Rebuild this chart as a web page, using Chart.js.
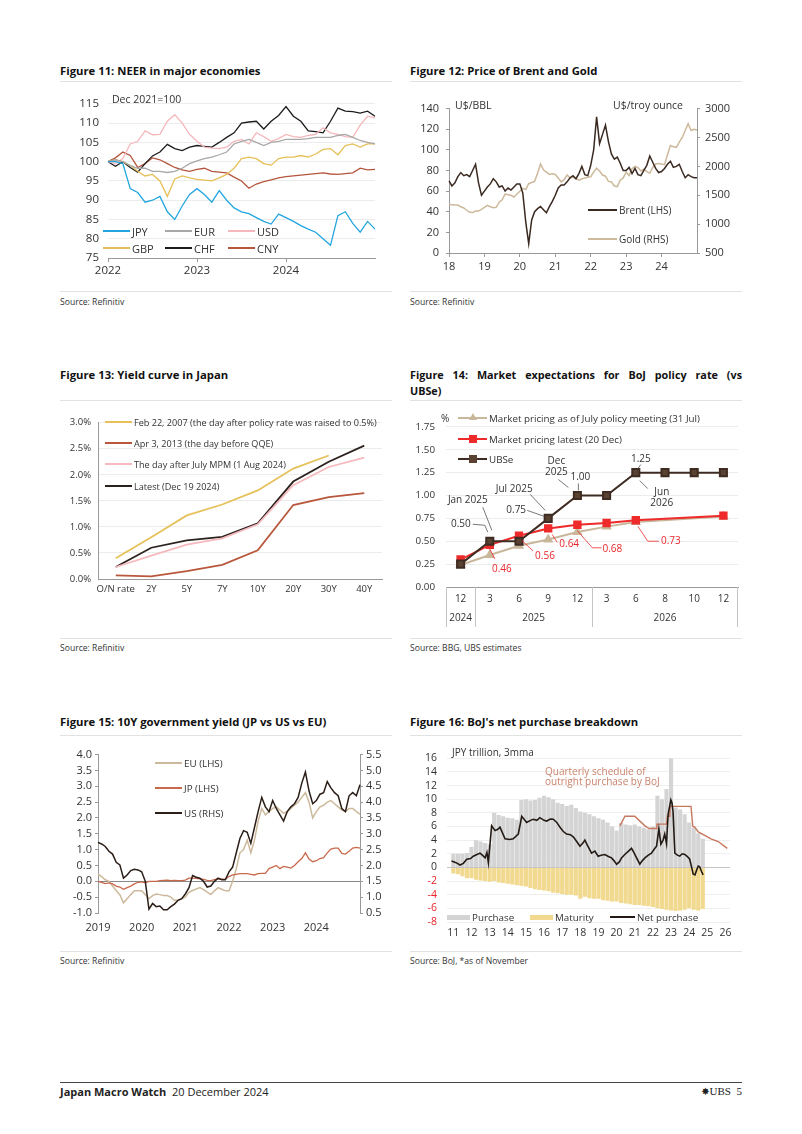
<!DOCTYPE html>
<html>
<head>
<meta charset="utf-8">
<title>Japan Macro Watch - page 5</title>
<script src="https://cdn.jsdelivr.net/npm/chart.js@4.4.1/dist/chart.umd.min.js"></script>
<style>
  body { margin: 0; background: #fff; }
  #page { position: relative; width: 802px; height: 1134px; overflow: hidden; font-family: "Open Sans", Lato, sans-serif; color: #222; }
  #page div { position: absolute; white-space: nowrap; }
  canvas { position: absolute; }
  .title { font-weight: bold; font-size: 11.3px; color: #111; line-height: 14px; }
  .rule { height: 0; border-top: 1px solid #e2e2e2; }
  .src { font-size: 8.6px; color: #333; line-height: 10px; }
  .note { font-size: 10px; line-height: 12px; color: #333; }
</style>
</head>
<body>
<div id="page">
  <div class="title" style="left:60px;top:64px">Figure 11: NEER in major economies</div>
  <div class="title" style="left:410px;top:64px">Figure 12: Price of Brent and Gold</div>
  <div class="rule" style="left:60px;top:81px;width:332px"></div>
  <div class="rule" style="left:410px;top:81px;width:332px"></div>
  <div class="rule" style="left:60px;top:291px;width:332px"></div>
  <div class="rule" style="left:410px;top:291px;width:332px"></div>
  <div class="src" style="left:60px;top:297px">Source: Refinitiv</div>
  <div class="src" style="left:410px;top:297px">Source: Refinitiv</div>

  <div class="title" style="left:60px;top:368px">Figure 13: Yield curve in Japan</div>
  <div class="title" style="left:410px;top:368px;width:332px;font-size:10.8px;text-align:justify;text-align-last:justify">Figure 14: Market expectations for BoJ policy rate (vs</div>
  <div class="title" style="left:410px;top:384px;font-size:10.8px">UBSe)</div>
  <div class="rule" style="left:60px;top:400px;width:332px"></div>
  <div class="rule" style="left:410px;top:400px;width:332px"></div>
  <div class="rule" style="left:60px;top:638px;width:332px"></div>
  <div class="rule" style="left:410px;top:638px;width:332px"></div>
  <div class="src" style="left:60px;top:643px">Source: Refinitiv</div>
  <div class="src" style="left:410px;top:643px">Source: BBG, UBS estimates</div>

  <div class="title" style="left:60px;top:715px">Figure 15: 10Y government yield (JP vs US vs EU)</div>
  <div class="title" style="left:410px;top:715px">Figure 16: BoJ's net purchase breakdown</div>
  <div class="rule" style="left:60px;top:735px;width:332px"></div>
  <div class="rule" style="left:410px;top:735px;width:332px"></div>
  <div class="rule" style="left:60px;top:951px;width:332px"></div>
  <div class="rule" style="left:410px;top:951px;width:332px"></div>
  <div class="src" style="left:60px;top:956px">Source: Refinitiv</div>
  <div class="src" style="left:410px;top:956px">Source: BoJ, *as of November</div>

  <canvas id="c11" width="330" height="190" style="left:60px;top:88px"></canvas>
  <canvas id="c12" width="340" height="175" style="left:405px;top:95px"></canvas>
  <canvas id="c13" width="340" height="190" style="left:55px;top:410px"></canvas>
  <canvas id="c14" width="340" height="222" style="left:405px;top:410px"></canvas>
  <canvas id="c15" width="340" height="195" style="left:55px;top:745px"></canvas>
  <canvas id="c16" width="340" height="206" style="left:405px;top:742px"></canvas>

  <div class="note" style="left:112px;top:93px;font-size:10.5px">Dec 2021=100</div>
  <div class="note" style="left:455px;top:99px;font-size:10.5px">U$/BBL</div>
  <div class="note" style="right:119px;top:99px;font-size:10.5px">U$/troy ounce</div>
  <div class="note" style="left:441px;top:412px">%</div>
  <div class="note" style="left:452px;top:746px">JPY trillion, 3mma</div>
  <div class="note" style="left:545px;top:766px;color:#c9836b;line-height:10px">Quarterly schedule of<br>outright purchase by BoJ</div>

  <div style="left:60px;top:1082px;width:682px;height:0;border-top:1px solid #444"></div>
  <div style="left:60px;top:1085px;font-size:11px;line-height:13px"><b>Japan Macro Watch</b>&nbsp;&nbsp;20 December 2024</div>
  <div style="right:60px;top:1085px;font-size:11px;line-height:13px;font-family:'Liberation Serif',serif"><span style="font-family:'DejaVu Sans';font-size:10px">&#10040;</span>UBS&nbsp;&nbsp;5</div>
</div>

<script>
// ---------- data ----------
function monthLabels(startYear, count) {
  var out = [];
  for (var k = 0; k < count; k++) {
    var y = startYear + Math.floor(k / 12), m = k % 12 + 1;
    out.push(y + '-' + (m < 10 ? '0' + m : m));
  }
  return out;
}

// Figure 11: NEER, monthly Jan 2022 .. Dec 2024 + latest
var neerMonths = monthLabels(2022, 36).concat(['latest']);
var neerNames = ['JPY', 'EUR', 'USD', 'GBP', 'CHF', 'CNY'];
var neerJPY = [100, 100, 99.5, 93, 92, 89.5, 90, 91, 87, 85, 88.5, 91.5,
  93, 91.5, 89.5, 92.5, 90, 88, 87, 86.5, 85.5, 84.5, 83.8, 86.4,
  85.5, 84.5, 83.4, 82.5, 81.7, 80, 78.3, 86, 87, 84, 81.7, 84.5, 82.5];
var neerEUR = [100, 100.5, 100, 99, 98.3, 98.3, 97.5, 97.5, 97.2, 97.5, 98.3, 99.5,
  100.2, 100.8, 101.2, 101.8, 102.5, 104.6, 105.3, 105.8, 105, 104.2, 105, 105.3,
  105.8, 105.8, 105.8, 106, 106.3, 106.3, 106.3, 106.8, 107.1, 106.3, 105.5, 105, 104.6];
var neerUSD = [100, 99.5, 100.8, 104.6, 105.3, 108, 107, 107.1, 110.5, 112.2, 110, 107.1,
  105.3, 103.8, 103.5, 103.4, 103.8, 105.3, 105.8, 104.6, 107.5, 106.5, 105.3, 106,
  107.1, 106.5, 106.3, 106.8, 107.1, 108.8, 107.5, 107.1, 106.5, 106.3, 109.5, 111.8, 111.4];
var neerGBP = [100, 100.5, 100, 99, 97.5, 96.3, 96.7, 95, 91, 95.5, 96.3, 95.8,
  95.4, 95.2, 95, 95.8, 96.7, 98.3, 100.8, 101.2, 100.8, 99.5, 99.1, 100.8,
  101.2, 101.2, 101.6, 101.2, 102, 103.2, 103.4, 101.8, 104.2, 104.6, 103.8, 104.6, 104.6];
var neerCHF = [100, 98.8, 100, 98.5, 97.3, 99.5, 101.5, 102.5, 104.5, 103.4, 102.9, 103.8,
  104.2, 104, 103.8, 105, 106.3, 107.5, 110, 110.3, 110.5, 108.5, 110.5, 112,
  114.3, 111.8, 110.5, 108, 107.8, 107.5, 110.5, 113.9, 113.1, 113, 112.6, 113.1, 111.8];
var neerCNY = [100, 101, 102.5, 101.6, 98.5, 99.5, 101, 100.5, 99.5, 98.5, 97.9, 97.5,
  98, 98.3, 97.5, 97.3, 97.1, 96, 95, 93.1, 94.2, 94.8, 95.3, 95.8,
  96.1, 96.3, 96.5, 96.7, 96.9, 97.1, 96.8, 96.7, 96.9, 97.1, 98.3, 97.9, 98];
var neerTicks = [75, 80, 85, 90, 95, 100, 105, 110, 115];

// Figure 12: Brent (LHS) and Gold (RHS), monthly Jan 2018 .. Dec 2024 + latest
var oilMonths = monthLabels(2018, 84).concat(['latest']);
var brent = [70, 65, 68, 74, 78, 75, 76, 74, 80, 86, 68, 56,
  60, 64, 67, 72, 69, 64, 65, 60, 63, 61, 64, 67,
  67, 58, 30, 9, 32, 40, 43, 45, 42, 39, 45, 50,
  56, 63, 66, 66, 69, 73, 75, 72, 77, 84, 76, 75,
  85, 100, 132, 106, 115, 124, 108, 96, 91, 93, 87, 80,
  80, 83, 77, 82, 76, 75, 80, 85, 94, 88, 82, 78,
  79, 82, 86, 89, 83, 84, 86, 79, 73, 76, 74, 73, 73];
var gold = [1340, 1335, 1330, 1330, 1300, 1280, 1240, 1205, 1200, 1225, 1225, 1255,
  1290, 1325, 1300, 1285, 1290, 1380, 1420, 1520, 1510, 1500, 1470, 1520,
  1570, 1620, 1600, 1700, 1720, 1740, 1880, 2040, 1940, 1900, 1860, 1870,
  1860, 1800, 1730, 1770, 1850, 1800, 1810, 1790, 1760, 1780, 1800, 1810,
  1820, 1900, 1970, 1920, 1850, 1830, 1740, 1730, 1660, 1650, 1760, 1800,
  1900, 1840, 1960, 2000, 1980, 1920, 1950, 1910, 1880, 1980, 2040, 2050,
  2040, 2030, 2200, 2360, 2340, 2330, 2420, 2500, 2620, 2740, 2620, 2640, 2630];

// Figure 13: JGB yield curve (%)
var tenors = ['O/N rate', '2Y', '5Y', '7Y', '10Y', '20Y', '30Y', '40Y'];
var curveNames = ['Feb 22, 2007 (the day after policy rate was raised to 0.5%)',
  'Apr 3, 2013 (the day before QQE)',
  'The day after July MPM (1 Aug 2024)',
  'Latest (Dec 19 2024)'];
var curve2007 = [0.40, 0.80, 1.22, 1.43, 1.70, 2.12, 2.37, null];
var curve2013 = [0.07, 0.05, 0.15, 0.27, 0.55, 1.42, 1.57, 1.65];
var curveAug24 = [0.23, 0.45, 0.66, 0.78, 1.05, 1.80, 2.15, 2.33];
var curveLatest = [0.23, 0.60, 0.74, 0.81, 1.07, 1.87, 2.25, 2.56];

// Figure 14: BoJ policy rate expectations (%)
var rateMonths = ['12', '3', '6', '9', '12', '3', '6', '8', '10', '12'];
var rateYears = ['2024', '2025', '2025', '2025', '2025', '2026', '2026', '2026', '2026', '2026'];
var rateNames = ['Market pricing as of July policy meeting (31 Jul)', 'Market pricing latest (20 Dec)', 'UBSe'];
var pricingJuly = [0.24, 0.35, 0.45, 0.52, 0.60, 0.66, 0.71, null, null, 0.77];
var pricingLatest = [0.30, 0.46, 0.56, 0.64, 0.68, 0.70, 0.73, null, null, 0.78];
var ubsForecast = [0.25, 0.50, 0.50, 0.75, 1.00, 1.00, 1.25, 1.25, 1.25, 1.25];

// Figure 15: 10Y yields, monthly Jan 2019 .. Dec 2024 + latest
var yieldMonths = monthLabels(2019, 72).concat(['latest']);
var yieldNames = ['EU (LHS)', 'JP (LHS)', 'US (RHS)'];
var yieldEU = [0.23, 0.15, 0.05, 0.0, -0.15, -0.3, -0.42, -0.68, -0.55, -0.42, -0.3, -0.3,
  -0.3, -0.42, -0.55, -0.45, -0.4, -0.42, -0.45, -0.45, -0.5, -0.6, -0.6, -0.55,
  -0.5, -0.35, -0.29, -0.24, -0.2, -0.26, -0.34, -0.42, -0.3, -0.2, -0.25, -0.3,
  -0.3, 0.0, 0.4, 0.9, 1.0, 1.3, 0.9, 1.3, 1.9, 2.3, 2.1, 2.2,
  2.3, 2.35, 2.25, 2.15, 2.2, 2.3, 2.4, 2.5, 2.65, 2.8, 2.5, 2.0,
  2.2, 2.35, 2.4, 2.5, 2.55, 2.45, 2.35, 2.25, 2.2, 2.3, 2.3, 2.2, 2.12];
var yieldJP = [0.0, -0.03, -0.07, -0.05, -0.08, -0.15, -0.18, -0.25, -0.2, -0.15, -0.08, -0.03,
  -0.02, -0.05, 0.0, 0.0, 0.0, 0.02, 0.03, 0.04, 0.02, 0.03, 0.02, 0.02,
  0.04, 0.1, 0.1, 0.09, 0.08, 0.06, 0.03, 0.02, 0.05, 0.08, 0.07, 0.07,
  0.15, 0.2, 0.22, 0.24, 0.24, 0.24, 0.22, 0.2, 0.24, 0.25, 0.25, 0.4,
  0.45, 0.5, 0.4, 0.47, 0.45, 0.42, 0.5, 0.62, 0.72, 0.9, 0.7, 0.62,
  0.65, 0.72, 0.75, 0.9, 1.02, 1.05, 1.05, 0.88, 0.86, 0.95, 1.05, 1.07, 1.05];
var yieldUS = [2.73, 2.68, 2.6, 2.45, 2.36, 2.1, 2.02, 1.6, 1.7, 1.84, 1.88, 1.86,
  1.8, 1.5, 0.62, 0.8, 0.7, 0.72, 0.6, 0.6, 0.7, 0.78, 0.9, 0.95,
  1.1, 1.3, 1.68, 1.63, 1.6, 1.5, 1.32, 1.35, 1.5, 1.6, 1.55, 1.55,
  1.8, 1.95, 2.4, 2.85, 3.1, 3.05, 2.7, 3.2, 3.7, 4.15, 3.85, 3.7,
  4.05, 3.8, 3.6, 3.4, 3.7, 3.85, 3.95, 4.15, 4.6, 4.95, 4.35, 3.95,
  4.05, 4.25, 4.3, 4.65, 4.45, 4.3, 4.2, 3.8, 3.7, 4.2, 4.3, 4.2, 4.55];

// Figure 16: BoJ JGB purchases, JPY trillion (quarterly bars from 2011Q1, lines as [year, value])
var bojNames = ['Purchase', 'Maturity', 'Net purchase'];
var purchaseQ = [2.0, 2.0, 2.0, 2.1, 3.0, 4.0, 3.8, 3.6, 3.4, 8.0, 7.7, 7.5,
  7.3, 7.2, 7.0, 9.9, 10.0, 9.8, 9.9, 10.2, 10.5, 10.3, 10.0, 9.5,
  9.3, 9.0, 9.2, 8.7, 8.2, 8.0, 7.8, 7.5, 7.2, 7.0, 6.6, 6.0,
  5.4, 6.5, 6.3, 6.2, 6.3, 6.0, 5.8, 5.6, 6.0, 10.5, 10.0, 11.5,
  16.0, 8.8, 8.5, 7.8, 6.6, 5.8, 5.0, 4.2];
var maturityQ = [-0.9, -1.0, -1.3, -1.6, -1.6, -1.8, -1.9, -2.0, -2.1, -2.0, -2.2, -2.3,
  -2.4, -2.5, -2.6, -2.7, -2.8, -3.0, -3.2, -3.3, -3.4, -3.5, -3.7, -3.8,
  -3.9, -4.0, -4.0, -4.1, -4.6, -4.3, -4.5, -4.6, -4.6, -4.8, -4.9, -5.0,
  -5.0, -5.2, -5.3, -5.4, -5.5, -5.5, -5.6, -5.7, -5.8, -6.0, -6.1, -6.2,
  -6.3, -6.4, -6.3, -6.2, -6.0, -6.2, -6.3, -6.1];
var netPurchase = [[2010.9, 0.95], [2011.15, 0.7], [2011.37, 0.35], [2011.55, 0.6], [2011.74, 1.2], [2011.95, 1.3],
  [2012.1, 1.65], [2012.3, 1.9], [2012.47, 2.1], [2012.6, 1.8], [2012.75, 1.4], [2012.85, 2.2], [2012.93, 0.7],
  [2013.11, 6.1], [2013.3, 5.4], [2013.45, 5.6], [2013.57, 5.9], [2013.85, 4.2], [2014.1, 4.1], [2014.3, 4.2],
  [2014.58, 4.9], [2014.77, 7.5], [2015.04, 6.6], [2015.25, 6.9], [2015.41, 7.06], [2015.6, 6.9], [2015.77, 7.3],
  [2016.0, 6.9], [2016.14, 6.8], [2016.35, 7.1], [2016.51, 7.06], [2016.7, 6.6], [2016.88, 5.9], [2017.05, 5.3],
  [2017.24, 4.9], [2017.45, 4.8], [2017.61, 4.5], [2017.8, 3.8], [2017.98, 3.1], [2018.15, 3.6], [2018.25, 4.0],
  [2018.4, 3.2], [2018.62, 2.1], [2018.8, 2.4], [2018.98, 1.65], [2019.15, 1.8], [2019.35, 1.9], [2019.55, 1.6],
  [2019.72, 1.4], [2019.85, 1.0], [2020.0, 0.47], [2020.15, 0.8], [2020.27, 1.4], [2020.45, 1.9], [2020.64, 2.35],
  [2020.82, 2.8], [2020.95, 2.2], [2021.1, 1.4], [2021.28, 0.47], [2021.42, 1.0], [2021.56, 1.4], [2021.75, 1.8],
  [2021.92, 2.1], [2022.05, 2.6], [2022.2, 3.1], [2022.33, 5.65], [2022.44, 3.4], [2022.56, 4.0], [2022.65, 4.9],
  [2022.75, 3.5], [2022.84, 7.8], [2022.99, 9.9], [2023.05, 9.5], [2023.11, 8.2], [2023.21, 2.1], [2023.35, 1.8],
  [2023.48, 1.65], [2023.62, 2.0], [2023.76, 1.9], [2023.9, 1.6], [2024.03, 1.2], [2024.12, 0.2], [2024.22, -0.95],
  [2024.32, -1.1], [2024.4, -0.47], [2024.5, 0.2], [2024.58, 0.1], [2024.68, -0.6], [2024.77, -1.1]];
var bojSchedule = [[2020.18, 6.1], [2020.46, 7.5], [2021.0, 7.5], [2021.56, 6.1], [2021.8, 5.7], [2022.2, 5.7],
  [2022.22, 6.35], [2022.75, 6.35], [2022.8, 7.5], [2022.93, 7.5], [2022.95, 8.95], [2024.1, 8.95],
  [2024.2, 6.0], [2024.31, 5.9], [2024.5, 5.2], [2024.86, 4.7], [2025.2, 4.2], [2025.6, 3.8], [2026.1, 2.8]];

// ---------- common ----------
Chart.defaults.font.family = '"Open Sans", Lato, sans-serif';
Chart.defaults.color = '#333';
Chart.defaults.animation = false;
Chart.defaults.responsive = false;
Chart.defaults.plugins.legend.display = false;
Chart.defaults.plugins.tooltip.enabled = false;
Chart.defaults.elements.point.radius = 0;
Chart.defaults.elements.line.tension = 0;

function isJan(labels, i) { return !!labels[i] && labels[i].slice(5) === '01'; }
function plain(v) { return String(v); }

// month-category x axis with a tick only at each January
function yearAxis(labels, fmt, opts) {
  return {
    grid: { display: opts.tick, drawTicks: opts.tick, drawOnChartArea: false, tickLength: 4,
      color: function (c) { return isJan(labels, c.index) ? '#999' : 'rgba(0,0,0,0)'; } },
    border: { display: opts.border, color: '#999' },
    ticks: { autoSkip: false, maxRotation: 0, padding: opts.pad, font: { size: opts.size },
      callback: function (v, i) { return isJan(labels, i) ? fmt(labels[i].slice(0, 4)) : ''; } },
    afterFit: function (s) { s.height = opts.h; }
  };
}

var page = document.getElementById('page');
function legend(x, y, kind, color, text, size) {
  var d = document.createElement('div');
  d.style.cssText = 'left:' + x + 'px;top:' + (y - 7) + 'px;height:14px;display:flex;align-items:center;font-size:' + size + 'px;color:#333';
  var sw = document.createElement('span');
  sw.style.cssText = 'position:relative;display:inline-block;margin-right:2px;width:' + kind.w + 'px;height:' + (kind.box ? 5 : 0) + 'px;' +
    (kind.box ? 'background:' + color : 'border-top:' + (kind.lw || 2) + 'px solid ' + color);
  if (kind.marker) {
    var m = document.createElement('span');
    if (kind.marker === 'tri') {
      m.style.cssText = 'position:absolute;left:' + (kind.w / 2 - 4) + 'px;top:-6px;width:0;height:0;border-left:4px solid transparent;border-right:4px solid transparent;border-bottom:7px solid ' + kind.mc;
    } else {
      m.style.cssText = 'position:absolute;left:' + (kind.w / 2 - 4) + 'px;top:-5px;width:8px;height:8px;background:' + kind.mc;
    }
    sw.appendChild(m);
  }
  d.appendChild(sw);
  d.appendChild(document.createTextNode(text));
  page.appendChild(d);
}

// ---------- Figure 11 ----------
var neerColors = ['#23a6df', '#a8a8a8', '#f5b7bc', '#e5bf57', '#1c1c1c', '#b5553d'];
var neerSeries = [neerJPY, neerEUR, neerUSD, neerGBP, neerCHF, neerCNY];
new Chart(document.getElementById('c11'), {
  type: 'line',
  data: { labels: neerMonths, datasets: neerNames.map(function (n, i) {
    return { label: n, data: neerSeries[i], borderColor: neerColors[i], borderWidth: 1.3 };
  }) },
  options: {
    layout: { padding: { left: 0, right: 15, top: 13, bottom: 0 } },
    scales: {
      x: yearAxis(neerMonths, plain, { tick: true, border: true, pad: 2, size: 11.5, h: 20 }),
      y: { min: 75, max: 115, afterBuildTicks: function (s) { s.ticks = neerTicks.map(function (v) { return { value: v }; }); },
        grid: { color: '#ececec', drawTicks: false }, border: { display: false },
        ticks: { padding: 9, autoSkip: false, font: { size: 11.5 } },
        afterFit: function (s) { s.width = 48; } }
    }
  }
});
[[103, 231], [165, 231], [228, 231], [103, 248], [165, 248], [228, 248]].forEach(function (p, i) {
  legend(p[0], p[1], { w: 27 }, neerColors[i], neerNames[i], 11);
});

// ---------- Figure 12 ----------
new Chart(document.getElementById('c12'), {
  type: 'line',
  data: { labels: oilMonths, datasets: [
    { label: 'Brent (LHS)', data: brent, borderColor: '#3a2a21', borderWidth: 1.5, yAxisID: 'y' },
    { label: 'Gold (RHS)', data: gold, borderColor: '#cdb99b', borderWidth: 1.5, yAxisID: 'y1' }
  ] },
  options: {
    layout: { padding: { left: 0, right: 4, top: 10, bottom: 0 } },
    scales: {
      x: yearAxis(oilMonths, function (y) { return y.slice(2); }, { tick: true, border: true, pad: 3, size: 11, h: 17 }),
      y: { min: 0, max: 140, ticks: { stepSize: 20, padding: 7, autoSkip: false, font: { size: 11 } },
        grid: { drawOnChartArea: false, tickLength: 3, color: '#999' }, border: { color: '#999' },
        afterFit: function (s) { s.width = 44; } },
      y1: { position: 'right', min: 500, max: 3000, ticks: { stepSize: 500, padding: 5, autoSkip: false, font: { size: 11 }, callback: plain },
        grid: { drawOnChartArea: false, tickLength: 3, color: '#999' }, border: { color: '#999' },
        afterFit: function (s) { s.width = 44; } }
    }
  }
});
legend(588, 210, { w: 29 }, '#3a2a21', 'Brent (LHS)', 10);
legend(588, 239, { w: 29 }, '#cdb99b', 'Gold (RHS)', 10);

// ---------- Figure 13 ----------
var curveColors = ['#e6c15a', '#b9573d', '#f5b9be', '#2b211d'];
var curveSeries = [curve2007, curve2013, curveAug24, curveLatest];
new Chart(document.getElementById('c13'), {
  type: 'line',
  data: { labels: tenors, datasets: curveNames.map(function (n, i) {
    return { label: n, data: curveSeries[i], borderColor: curveColors[i], borderWidth: 1.8 };
  }) },
  options: {
    layout: { padding: { left: 0, right: 13, top: 9, bottom: 0 } },
    scales: {
      x: { offset: true, grid: { display: false, drawTicks: false }, border: { color: '#999' },
        ticks: { padding: 5, autoSkip: false, maxRotation: 0, minRotation: 0, font: { size: 9.5 } },
        afterFit: function (s) { s.height = 21; } },
      y: { min: 0, max: 3, ticks: { stepSize: 0.5, padding: 7, autoSkip: false, font: { size: 9.5 },
          callback: function (v) { return v.toFixed(1) + '%'; } },
        grid: { color: '#ececec', drawTicks: false }, border: { color: '#999' },
        afterFit: function (s) { s.width = 43; } }
    }
  }
});
[422, 443, 464, 486].forEach(function (y, i) { legend(105, y, { w: 27 }, curveColors[i], curveNames[i], 9.1); });

// ---------- Figure 14 ----------
var rateColors = ['#c9b79c', '#ee2a2a', '#3e2c23'];
var rateMarkers = ['#c9b79c', '#ee2a2a', '#5a4232'];
// text placed relative to a data point (ds, i); no text means the point's value
var rateNotes = [
  { ds: 2, i: 1, dx: -29, dy: -17, line: [[-17, -17], [-5, -16], [-2, -9]] },
  { ds: 2, i: 1, text: ['Jan 2025'], dx: -22, dy: -41, line: [[-7, -34], [2, -11]] },
  { ds: 2, i: 3, dx: -32, dy: -8, line: [[-21, -8], [-4, -2]] },
  { ds: 2, i: 3, text: ['Jul 2025'], dx: -34, dy: -29, line: [[-18, -24], [-3, -8]] },
  { ds: 2, i: 4, text: ['Dec', '2025'], dx: -21, dy: -34, line: [[-19, -16], [-9, -8]] },
  { ds: 2, i: 4, dx: 3, dy: -18, line: [[1, -12], [1, -5]] },
  { ds: 2, i: 6, dx: 5, dy: -13, line: [[5, -8], [2, -4]] },
  { ds: 2, i: 6, text: ['Jun', '2026'], dx: 26, dy: 20, line: [[4, 8], [12, 16]] },
  { ds: 1, i: 1, dx: 12, dy: 24, line: [[0, 4], [5, 14]] },
  { ds: 1, i: 2, dx: 26, dy: 20, line: [[3, 5], [14, 15]] },
  { ds: 1, i: 3, dx: 21, dy: 16, line: [[4, 6], [9, 14]] },
  { ds: 1, i: 4, dx: 35, dy: 24, line: [[0, 6], [15, 23], [24, 23]] },
  { ds: 1, i: 6, dx: 35, dy: 21, line: [[2, 6], [12, 21], [23, 21]] }
];
var rateLabels = {
  id: 'rateLabels',
  afterDraw: function (chart) {
    var ctx = chart.ctx, a = chart.chartArea, xs = chart.scales.x;
    var half = (xs.getPixelForValue(1) - xs.getPixelForValue(0)) / 2;
    ctx.save();
    // year row and separators under the month ticks
    ctx.strokeStyle = '#c4c4c4'; ctx.lineWidth = 1;
    ctx.fillStyle = '#333'; ctx.font = '10px "Open Sans"'; ctx.textAlign = 'center'; ctx.textBaseline = 'middle';
    var start = 0;
    for (var i = 1; i <= rateYears.length; i++) {
      if (i === rateYears.length || rateYears[i] !== rateYears[start]) {
        var x0 = xs.getPixelForValue(start) - half, x1 = xs.getPixelForValue(i - 1) + half;
        ctx.fillText(rateYears[start], (x0 + x1) / 2, a.bottom + 31);
        ctx.beginPath(); ctx.moveTo(Math.round(x0) + 0.5, a.bottom); ctx.lineTo(Math.round(x0) + 0.5, a.bottom + 40); ctx.stroke();
        if (i === rateYears.length) { ctx.beginPath(); ctx.moveTo(Math.round(x1) - 0.5, a.bottom); ctx.lineTo(Math.round(x1) - 0.5, a.bottom + 40); ctx.stroke(); }
        start = i;
      }
    }
    // callouts
    rateNotes.forEach(function (n) {
      var p = chart.getDatasetMeta(n.ds).data[n.i];
      var red = n.ds === 1;
      ctx.strokeStyle = red ? '#ee2a2a' : '#555'; ctx.lineWidth = 0.8;
      ctx.beginPath();
      n.line.forEach(function (q, k) { if (k) ctx.lineTo(p.x + q[0], p.y + q[1]); else ctx.moveTo(p.x + q[0], p.y + q[1]); });
      ctx.stroke();
      var lines = n.text || [chart.data.datasets[n.ds].data[n.i].toFixed(2)];
      ctx.fillStyle = red ? '#e8262b' : '#333'; ctx.font = '10px "Open Sans"';
      lines.forEach(function (t, k) { ctx.fillText(t, p.x + n.dx, p.y + n.dy + k * 11); });
    });
    ctx.restore();
  }
};
new Chart(document.getElementById('c14'), {
  type: 'line',
  data: { labels: rateMonths, datasets: [
    { label: rateNames[0], data: pricingJuly, borderColor: rateColors[0], backgroundColor: rateMarkers[0], borderWidth: 2,
      pointStyle: 'triangle', pointRadius: 4, spanGaps: true, order: 3 },
    { label: rateNames[1], data: pricingLatest, borderColor: rateColors[1], backgroundColor: rateMarkers[1], borderWidth: 2,
      pointStyle: 'rect', pointRadius: 4.5, spanGaps: true, order: 2 },
    { label: rateNames[2], data: ubsForecast, borderColor: rateColors[2], backgroundColor: rateMarkers[2], borderWidth: 2,
      pointStyle: 'rect', pointRadius: 5, order: 1 }
  ] },
  options: {
    layout: { padding: { left: 0, right: 7, top: 9, bottom: 0 } },
    scales: {
      x: { offset: true, grid: { display: false, drawTicks: false }, border: { color: '#999' },
        ticks: { padding: 6, autoSkip: false, maxRotation: 0, font: { size: 10 } },
        afterFit: function (s) { s.height = 45; } },
      y: { min: 0, max: 1.75, ticks: { stepSize: 0.25, padding: 11, autoSkip: false, font: { size: 9.8 },
          callback: function (v) { return v.toFixed(2); } },
        grid: { color: '#ececec', drawTicks: false }, border: { display: false },
        afterFit: function (s) { s.width = 41; } }
    }
  },
  plugins: [rateLabels]
});
legend(458, 418, { w: 29, marker: 'tri', mc: rateMarkers[0] }, rateColors[0], rateNames[0], 9.8);
legend(458, 439, { w: 29, marker: 'sq', mc: rateMarkers[1] }, rateColors[1], rateNames[1], 9.8);
legend(458, 459, { w: 29, marker: 'sq', mc: rateMarkers[2] }, rateColors[2], rateNames[2], 9.8);

// ---------- Figure 15 ----------
var yieldColors = ['#cdb99b', '#c8694c', '#2b1d17'];
new Chart(document.getElementById('c15'), {
  type: 'line',
  data: { labels: yieldMonths, datasets: [
    { label: yieldNames[2], data: yieldUS, borderColor: yieldColors[2], borderWidth: 1.5, yAxisID: 'y1' },
    { label: yieldNames[1], data: yieldJP, borderColor: yieldColors[1], borderWidth: 1.3, yAxisID: 'y' },
    { label: yieldNames[0], data: yieldEU, borderColor: yieldColors[0], borderWidth: 1.5, yAxisID: 'y' }
  ] },
  options: {
    layout: { padding: { left: 0, right: 3, top: 8, bottom: 0 } },
    scales: {
      x: yearAxis(yieldMonths, plain, { tick: false, border: false, pad: 8, size: 11, h: 27 }),
      y: { min: -1, max: 4, ticks: { stepSize: 0.5, padding: 3, autoSkip: false, font: { size: 11 },
          callback: function (v) { return v.toFixed(1); } },
        grid: { tickLength: 3, tickColor: '#999', color: function (c) { return c.tick && c.tick.value === 0 ? '#8a8a8a' : 'rgba(0,0,0,0)'; } },
        border: { color: '#999' },
        afterFit: function (s) { s.width = 43; } },
      y1: { position: 'right', min: 0.5, max: 5.5, ticks: { stepSize: 0.5, padding: 3, autoSkip: false, font: { size: 11 },
          callback: function (v) { return v.toFixed(1); } },
        grid: { drawOnChartArea: false, tickLength: 3, color: '#999' }, border: { color: '#999' },
        afterFit: function (s) { s.width = 32; } }
    }
  }
});
[763, 788, 813].forEach(function (y, i) { legend(155, y, { w: 27 }, yieldColors[i], yieldNames[i], 9.8); });

// ---------- Figure 16 ----------
function pairs(a) { return a.map(function (p) { return { x: p[0], y: p[1] }; }); }
function quarters(a) { return a.map(function (v, i) { return { x: 2011 + i / 4, y: v }; }); }
new Chart(document.getElementById('c16'), {
  type: 'bar',
  data: { datasets: [
    { type: 'line', label: bojNames[2], data: pairs(netPurchase), borderColor: '#231a15', borderWidth: 1.6, order: 0 },
    { type: 'line', label: 'Quarterly schedule of outright purchase by BoJ', data: pairs(bojSchedule), borderColor: '#c7775d', borderWidth: 1.4, order: 1 },
    { label: bojNames[0], data: quarters(purchaseQ), backgroundColor: '#d4d4d4', grouped: false, barPercentage: 0.92, categoryPercentage: 1, order: 2 },
    { label: bojNames[1], data: quarters(maturityQ), backgroundColor: '#f1d98f', grouped: false, barPercentage: 0.92, categoryPercentage: 1, order: 2 }
  ] },
  options: {
    layout: { padding: { left: 0, right: 15, top: 10, bottom: 0 } },
    scales: {
      x: { type: 'linear', offset: false, min: 2010.65, max: 2026.25,
        grid: { display: false, drawTicks: false }, border: { display: false },
        ticks: { stepSize: 1, includeBounds: false, autoSkip: false, maxRotation: 0, minRotation: 0, padding: 5, font: { size: 10.5 },
          callback: function (v) { return Number.isInteger(v) ? String(v).slice(2) : ''; } },
        afterFit: function (s) { s.height = 26; } },
      y: { min: -8, max: 16, ticks: { stepSize: 2, padding: 10, autoSkip: false, font: { size: 10.5 },
          color: function (c) { return c.tick && c.tick.value < 0 ? '#e8262b' : '#333'; } },
        grid: { drawTicks: false, color: function (c) { return c.tick && c.tick.value === 0 ? '#c4c4c4' : '#efefef'; } },
        border: { display: false },
        afterFit: function (s) { s.width = 42; } }
    }
  }
});
legend(447, 917, { w: 23, box: true }, '#d4d4d4', bojNames[0], 9.8);
legend(530, 917, { w: 23, box: true }, '#f1d98f', bojNames[1], 9.8);
legend(610, 917, { w: 25 }, '#231a15', bojNames[2], 9.8);
</script>
</body>
</html>
